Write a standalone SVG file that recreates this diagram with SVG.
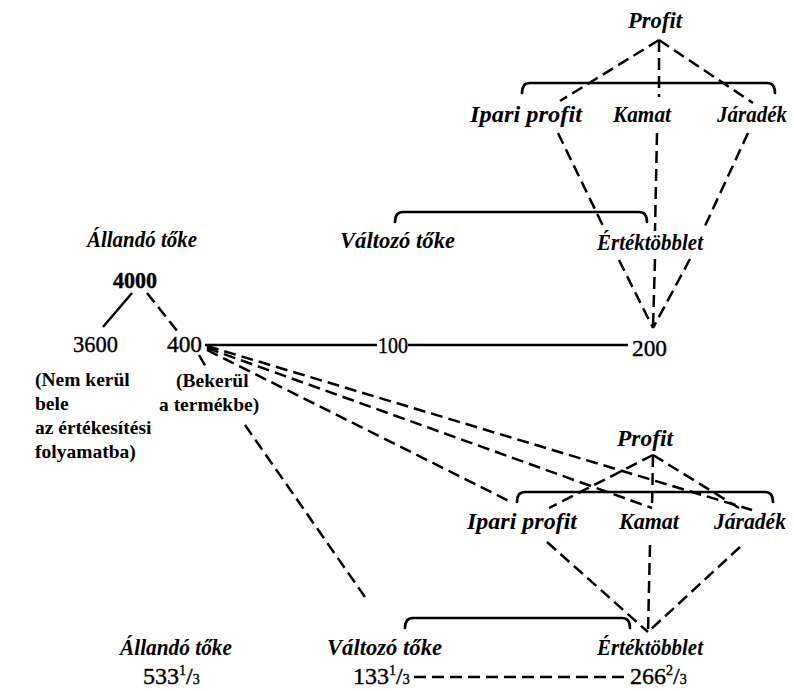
<svg xmlns="http://www.w3.org/2000/svg" width="794" height="691" viewBox="0 0 794 691">
<style>
.lab{font-family:"Liberation Serif","DejaVu Serif",serif;font-style:italic;font-weight:bold;font-size:23px;fill:#000}
.num{font-family:"Liberation Serif","DejaVu Serif",serif;font-size:24px;fill:#000;stroke:#000;stroke-width:0.4}
.txt{font-family:"Liberation Serif","DejaVu Serif",serif;font-size:19.5px;fill:#000;font-weight:bold}
.d{fill:none;stroke:#000;stroke-width:2.5;stroke-dasharray:12 6}
.s{fill:none;stroke:#000;stroke-width:2.5}
.br{fill:none;stroke:#000;stroke-width:2.7;stroke-linecap:round}
</style>
<rect width="794" height="691" fill="#fff"/>
<g id="connectors">
  <line class="d" x1="659" y1="40" x2="560" y2="101"/>
  <line class="d" x1="659" y1="40" x2="659" y2="97"/>
  <line class="d" x1="659" y1="40" x2="753" y2="103"/>
  <path class="br" d="M522,93 Q522,83 530,83 L767,83 Q775,83 775,93"/>
  <line class="d" x1="558" y1="133" x2="605" y2="230"/>
  <line class="d" x1="619" y1="260" x2="653" y2="328"/>
  <line class="d" x1="657" y1="133" x2="655" y2="231"/>
  <line class="d" x1="655" y1="259" x2="653" y2="328"/>
  <line class="d" x1="748" y1="133" x2="705" y2="226"/>
  <line class="d" x1="690" y1="259" x2="653" y2="328"/>
  <path class="br" d="M395,222 Q395,212 403,212 L639,212 Q647,212 647,222"/>
  <line class="s" x1="132" y1="293" x2="103" y2="327"/>
  <line class="d" x1="147" y1="293" x2="178" y2="332"/>
  <line class="s" x1="205" y1="345" x2="377" y2="345"/>
  <line class="s" x1="408" y1="345" x2="628" y2="345"/>
  <line class="d" x1="207" y1="350" x2="513" y2="503"/>
  <line class="d" x1="207" y1="348" x2="652" y2="508"/>
  <line class="d" x1="207" y1="346" x2="752" y2="510"/>
  <line class="d" x1="199" y1="355" x2="207" y2="369"/>
  <line class="d" x1="245" y1="425" x2="365" y2="597"/>
  <line class="d" x1="653" y1="455" x2="549" y2="508"/>
  <line class="d" x1="653" y1="455" x2="652" y2="508"/>
  <line class="d" x1="653" y1="455" x2="739" y2="508"/>
  <path class="br" d="M517,502 Q517,492 525,492 L765,492 Q773,492 773,502"/>
  <line class="d" x1="547" y1="542" x2="648" y2="632"/>
  <line class="d" x1="650" y1="545" x2="648" y2="632"/>
  <line class="d" x1="740" y1="547" x2="648" y2="632"/>
  <path class="br" d="M405,628 Q405,618 413,618 L622,618 Q630,618 630,628"/>
  <line class="d" x1="414" y1="677" x2="628" y2="677"/>
</g>
<g id="top-profit"><text class="lab" x="628" y="28" textLength="54" lengthAdjust="spacingAndGlyphs">Profit</text></g>
<g id="top-ipari"><text class="lab" x="470" y="122" textLength="112" lengthAdjust="spacingAndGlyphs">Ipari profit</text></g>
<g id="top-kamat"><text class="lab" x="613" y="122" textLength="58" lengthAdjust="spacingAndGlyphs">Kamat</text></g>
<g id="top-jaradek"><text class="lab" x="717" y="122" textLength="70" lengthAdjust="spacingAndGlyphs">Járadék</text></g>
<g id="top-allando"><text class="lab" x="87" y="247" textLength="110" lengthAdjust="spacingAndGlyphs">Állandó tőke</text></g>
<g id="top-valtozo"><text class="lab" x="340" y="248" textLength="115" lengthAdjust="spacingAndGlyphs">Változó tőke</text></g>
<g id="top-ertek"><text class="lab" x="597" y="250" textLength="106" lengthAdjust="spacingAndGlyphs">Értéktöbblet</text></g>
<g id="n4000"><text class="num" x="113" y="288" font-weight="bold" textLength="44" lengthAdjust="spacingAndGlyphs">4000</text></g>
<g id="n3600"><text class="num" x="73" y="352" textLength="45" lengthAdjust="spacingAndGlyphs">3600</text></g>
<g id="n400"><text class="num" x="167" y="352" textLength="35" lengthAdjust="spacingAndGlyphs">400</text></g>
<g id="n100"><text class="num" x="378" y="353" textLength="30" lengthAdjust="spacingAndGlyphs">100</text></g>
<g id="n200"><text class="num" x="632" y="356" textLength="35" lengthAdjust="spacingAndGlyphs">200</text></g>
<g id="nem-kerul">
  <text class="txt" x="35" y="386">(Nem kerül</text>
  <text class="txt" x="35" y="410">bele</text>
  <text class="txt" x="35" y="434">az értékesítési</text>
  <text class="txt" x="35" y="458">folyamatba)</text>
</g>
<g id="bekerul">
  <text class="txt" x="176" y="387">(Bekerül</text>
  <text class="txt" x="159" y="411">a termékbe)</text>
</g>
<g id="low-profit"><text class="lab" x="617" y="446" textLength="56" lengthAdjust="spacingAndGlyphs">Profit</text></g>
<g id="low-ipari"><text class="lab" x="467" y="529" textLength="110" lengthAdjust="spacingAndGlyphs">Ipari profit</text></g>
<g id="low-kamat"><text class="lab" x="619" y="529" textLength="60" lengthAdjust="spacingAndGlyphs">Kamat</text></g>
<g id="low-jaradek"><text class="lab" x="714" y="529" textLength="72" lengthAdjust="spacingAndGlyphs">Járadék</text></g>
<g id="bot-allando"><text class="lab" x="120" y="655" textLength="112" lengthAdjust="spacingAndGlyphs">Állandó tőke</text>
  <text class="num" x="143" y="684">533<tspan font-size="14" dy="-9">1</tspan><tspan dy="9">/</tspan><tspan font-size="14">3</tspan></text></g>
<g id="bot-valtozo"><text class="lab" x="327" y="655" textLength="115" lengthAdjust="spacingAndGlyphs">Változó tőke</text>
  <text class="num" x="353" y="684">133<tspan font-size="14" dy="-9">1</tspan><tspan dy="9">/</tspan><tspan font-size="14">3</tspan></text></g>
<g id="bot-ertek"><text class="lab" x="597" y="655" textLength="106" lengthAdjust="spacingAndGlyphs">Értéktöbblet</text>
  <text class="num" x="630" y="684">266<tspan font-size="14" dy="-9">2</tspan><tspan dy="9">/</tspan><tspan font-size="14">3</tspan></text></g>
</svg>
